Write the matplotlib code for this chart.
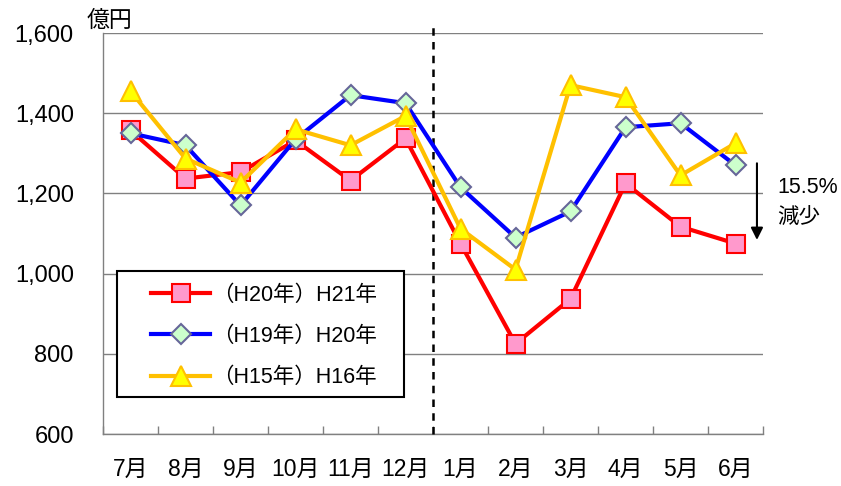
import matplotlib
matplotlib.use("Agg")
import matplotlib.pyplot as plt
from matplotlib.patches import Rectangle

plt.rcParams['font.family'] = ['Liberation Sans', 'Noto Sans CJK JP', 'DejaVu Sans']

months = ['7月', '8月', '9月', '10月', '11月', '12月', '1月', '2月', '3月', '4月', '5月', '6月']
h21 = [1357, 1237, 1253, 1332, 1232, 1337, 1075, 825, 937, 1225, 1117, 1075]
h20 = [1350, 1320, 1170, 1335, 1445, 1425, 1215, 1090, 1155, 1365, 1375, 1270]
h16 = [1455, 1287, 1227, 1360, 1320, 1393, 1112, 1010, 1470, 1440, 1245, 1325]
labels = ['（H20年）H21年', '（H19年）H20年', '（H15年）H16年']
yticks = [600, 800, 1000, 1200, 1400, 1600]

fig = plt.figure(figsize=(8.41, 4.86), dpi=100)
ax = fig.add_axes([103/841, 1-434/486, 660/841, 401/486])

x = list(range(len(months)))
l1, = ax.plot(x, h21, color='#FF0000', lw=3, marker='s', ms=12.5,
              mfc='#FF99CC', mec='#FF0000', mew=1.5, zorder=5)
l2, = ax.plot(x, h20, color='#0000FF', lw=3, marker='D', ms=10,
              mfc='#CCFFCC', mec='#666699', mew=1.5, zorder=5)
l3, = ax.plot(x, h16, color='#FFC000', lw=3, marker='^', ms=15,
              mfc='#FFFF00', mec='#FFC000', mew=1.5, zorder=5)

ax.set_xlim(-0.5, 11.5)
ax.set_ylim(600, 1600)
ax.set_yticks(yticks)
ax.set_yticklabels([f'{v:,}' for v in yticks], fontsize=17)
ax.yaxis.grid(True, color='#808080', lw=1)
ax.set_axisbelow(True)
ax.tick_params(axis='y', length=0, pad=21)

ax.set_xticks(x)
ax.set_xticklabels(months, fontsize=16.5)
ax.tick_params(axis='x', which='major', length=0, pad=17)
ax.set_xticks([i - 0.5 for i in range(13)], minor=True)
ax.tick_params(axis='x', which='minor', direction='in', length=6, color='#808080', width=1)

for s in ['top', 'right']:
    ax.spines[s].set_visible(False)
for s in ['left', 'bottom']:
    ax.spines[s].set_color('#808080')
    ax.spines[s].set_linewidth(1)

# dashed divider between 12月 and 1月
ax.plot([5.5, 5.5], [600, 1628], color='black', lw=1.8, ls=(0, (3, 2.5)),
        clip_on=False, zorder=3)

# unit label
fig.text(109/841, 1-20/486, '億円', fontsize=16.5, ha='center', va='center')

# arrow and annotation on right
ax.annotate('', xy=(11.39, 1077), xytext=(11.39, 1282),
            xycoords='data', textcoords='data',
            arrowprops=dict(arrowstyle='-|>', color='black', lw=1.5,
                            mutation_scale=18), annotation_clip=False)
ax.text(11.76, 1215, '15.5%', fontsize=15.5, ha='left', va='center')
ax.text(11.76, 1137, '減少', fontsize=15.5, ha='left', va='center')

# legend
rect = Rectangle(((117-103)/660, (434-397)/401), 287/660, 126/401,
                 transform=ax.transAxes, facecolor='white', edgecolor='black',
                 lw=1.5, zorder=6)
ax.add_patch(rect)
leg = ax.legend([l1, l2, l3], labels, loc='upper left',
                bbox_to_anchor=((145-103)/660, (434-278)/401),
                frameon=False, fontsize=15.5, handlelength=2.7,
                handletextpad=0.1, labelspacing=0.95, borderpad=0.3,
                borderaxespad=0)
leg.set_zorder(7)

fig.savefig('out.png', dpi=100)
